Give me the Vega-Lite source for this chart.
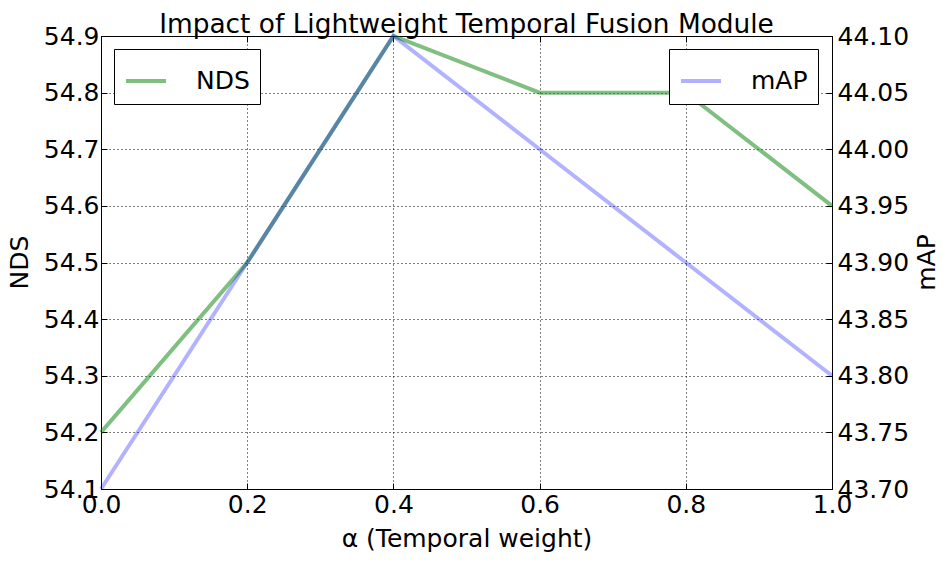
{
  "$schema": "https://vega.github.io/schema/vega-lite/v6.json",
  "width": 731,
  "height": 453,
  "autosize": {"type": "none"},
  "padding": {"left": 101, "top": 36, "right": 119, "bottom": 74},
  "background": "white",
  "title": {
    "text": "Impact of Lightweight Temporal Fusion Module",
    "font": "DejaVu Sans",
    "fontSize": 26.4,
    "fontWeight": "normal",
    "color": "black",
    "anchor": "middle",
    "dy": 18
  },
  "config": {
    "view": {"stroke": "black", "strokeWidth": 1},
    "axis": {
      "labelFont": "DejaVu Sans",
      "labelFontSize": 25,
      "labelColor": "black",
      "titleFont": "DejaVu Sans",
      "titleFontSize": 25,
      "titleFontWeight": "normal",
      "titleColor": "black",
      "domain": false,
      "tickColor": "black",
      "tickSize": -6,
      "labelPadding": 8,
      "gridColor": "black",
      "gridDash": [1, 3],
      "gridOpacity": 1,
      "labelOverlap": false,
      "labelFlush": false
    },
    "legend": {
      "labelFont": "DejaVu Sans",
      "labelFontSize": 25,
      "labelColor": "black",
      "strokeColor": "black",
      "fillColor": "white",
      "padding": 10,
      "symbolType": "stroke",
      "symbolSize": 1600,
      "symbolStrokeWidth": 4,
      "labelOffset": 28,
      "cornerRadius": 0
    }
  },
  "data": {
    "values": [
      {"alpha": 0.0, "NDS": 54.2, "mAP": 43.70},
      {"alpha": 0.2, "NDS": 54.5, "mAP": 43.90},
      {"alpha": 0.4, "NDS": 54.9, "mAP": 44.10},
      {"alpha": 0.6, "NDS": 54.8, "mAP": 44.00},
      {"alpha": 0.8, "NDS": 54.8, "mAP": 43.90},
      {"alpha": 1.0, "NDS": 54.6, "mAP": 43.80}
    ]
  },
  "layer": [
    {
      "mark": {"type": "line", "strokeWidth": 4, "opacity": 0.5},
      "encoding": {
        "x": {
          "field": "alpha",
          "type": "quantitative",
          "scale": {"domain": [0, 1], "nice": false},
          "axis": {
            "title": "α (Temporal weight)",
            "values": [0, 0.2, 0.4, 0.6, 0.8, 1.0],
            "format": ".1f",
            "orient": "bottom",
            "labelPadding": 9,
            "titlePadding": 9
          }
        },
        "y": {
          "field": "NDS",
          "type": "quantitative",
          "scale": {"domain": [54.1, 54.9], "nice": false, "zero": false},
          "axis": {
            "title": "NDS",
            "titleX": -82,
            "titleY": 226,
            "titleAlign": "center",
            "titleBaseline": "middle",
            "values": [54.1, 54.2, 54.3, 54.4, 54.5, 54.6, 54.7, 54.8, 54.9],
            "format": ".1f",
            "orient": "left"
          }
        },
        "color": {
          "datum": "NDS",
          "scale": {"range": ["#008000"]},
          "legend": {
            "title": null,
            "orient": "none",
            "legendX": 13,
            "legendY": 13,
            "symbolOpacity": 0.5
          }
        }
      }
    },
    {
      "mark": {"type": "line", "strokeWidth": 4, "opacity": 0.3},
      "encoding": {
        "x": {
          "field": "alpha",
          "type": "quantitative",
          "scale": {"domain": [0, 1], "nice": false},
          "axis": {
            "title": null,
            "values": [0, 0.2, 0.4, 0.6, 0.8, 1.0],
            "labels": false,
            "grid": false,
            "orient": "top"
          }
        },
        "y": {
          "field": "mAP",
          "type": "quantitative",
          "scale": {"domain": [43.7, 44.1], "nice": false, "zero": false},
          "axis": {
            "title": "mAP",
            "titleAngle": 270,
            "titleX": 94,
            "titleY": 226,
            "titleAlign": "center",
            "titleBaseline": "middle",
            "values": [43.7, 43.75, 43.8, 43.85, 43.9, 43.95, 44.0, 44.05, 44.1],
            "format": ".2f",
            "orient": "right",
            "labelPadding": 11,
            "grid": false
          }
        },
        "color": {
          "datum": "mAP",
          "scale": {"range": ["#0000ff"]},
          "legend": {
            "title": null,
            "orient": "none",
            "legendX": 568,
            "legendY": 13,
            "symbolOpacity": 0.3
          }
        }
      }
    }
  ],
  "resolve": {
    "scale": {"y": "independent", "color": "independent"},
    "axis": {"x": "independent", "y": "independent"}
  }
}
